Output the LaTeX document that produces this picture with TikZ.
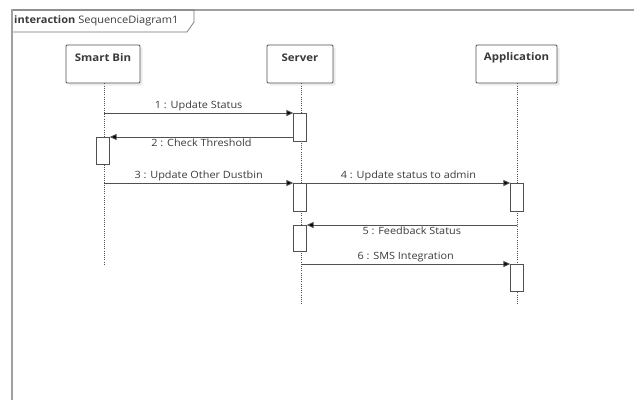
\documentclass[tikz,border=0pt]{standalone}
\usepackage{fontspec}
\setmainfont{Open Sans}
\usetikzlibrary{arrows.meta,calc,shadows}
\definecolor{framegray}{HTML}{A0A0A0}
\definecolor{linegray}{HTML}{505050}
\definecolor{txtgray}{HTML}{3A3A3A}
% slightly widened text, as the modelling tool renders it
\newcommand{\widetxt}[1]{\scalebox{1.09}[1]{#1}}
\begin{document}
\begin{tikzpicture}[x=1pt,y=-1pt,
  lifebox/.style={draw=linegray, fill=white, line width=0.9pt, rounded corners=1pt,
    minimum height=38pt, inner sep=0pt,
    drop shadow={opacity=0.15, shadow xshift=2.5pt, shadow yshift=-2.5pt}},
  boxlabel/.style={font=\bfseries\fontsize{10.5}{12}\selectfont, text=txtgray, inner sep=0pt},
  lifeline/.style={draw=linegray, line width=0.8pt, dash pattern=on 1pt off 1.2pt},
  actbar/.style={draw=linegray, fill=white, line width=0.8pt, minimum width=12.5pt,
    inner sep=0pt, anchor=north},
  msg/.style={draw=linegray, line width=0.9pt, -{Triangle[length=7pt,width=6pt,fill=black]}},
  msglabel/.style={font=\fontsize{10}{12}\selectfont, text=txtgray, inner sep=1.5pt}]
\useasboundingbox (0,0) rectangle (634,400);

% outer interaction frame
\draw[framegray, line width=1.8pt] (12,400) -- (12,10) -- (634,10);
\draw[linegray!80, line width=0.7pt] (13,10) -- (194,10) -- (194,22) -- (187,32) -- (13,32);
\node[anchor=west, inner sep=0pt, font=\fontsize{10.3}{12}\selectfont, text=txtgray] (title) at (14,21)
  {\scalebox{1.07}[1]{\textbf{interaction} SequenceDiagram1}};

% lifeline heads
\node[lifebox, minimum width=74pt] (sb) at (103,64) {};
\node[lifebox, minimum width=66pt] (srv) at (300,64) {};
\node[lifebox, minimum width=81pt] (app) at (516.5,64) {};
\node[boxlabel] (sbt) at ($(sb.north)+(0,13)$) {\widetxt{Smart Bin}};
\node[boxlabel] (srvt) at ($(srv.north)+(0,13)$) {\widetxt{Server}};
\node[boxlabel] (appt) at ($(app.north)+(0,13)$) {\widetxt{Application}};

% lifeline ends
\coordinate (sbEnd) at (104,264);
\coordinate (srvEnd) at (301,304);
\coordinate (appEnd) at (517,304);
\draw[lifeline] (sb.south -| sbEnd) -- (sbEnd);
\draw[lifeline] (srv.south -| srvEnd) -- (srvEnd);
\draw[lifeline] (app.south -| appEnd) -- (appEnd);

% activation bars
\node[actbar, minimum height=28pt] (s1) at (300,113) {};
\node[actbar, minimum height=27pt] (b1) at (103,137) {};
\node[actbar, minimum height=28pt] (s2) at (300,183) {};
\node[actbar, minimum height=28pt] (a1) at (517,183) {};
\node[actbar, minimum height=26pt] (s3) at (300,225) {};
\node[actbar, minimum height=27pt] (a2) at (517,264) {};

% messages
\draw[msg] (sbEnd |- s1.north) -- node[msglabel, above] {\widetxt{1 : Update Status}} (s1.north west);
\draw[msg] (s1.west |- b1.north) -- node[msglabel, below] {\widetxt{2 : Check Threshold}} (b1.north east);
\draw[msg] (sbEnd |- s2.north) -- node[msglabel, above] {\widetxt{3 : Update Other Dustbin}} (s2.north west);
\draw[msg] (s2.north east) -- node[msglabel, above] {\widetxt{4 : Update status to admin}} (a1.north west);
\draw[msg] (appEnd |- s3.north) -- node[msglabel, below] {\widetxt{5 : Feedback Status}} (s3.north east);
\draw[msg] (srvEnd |- a2.north) -- node[msglabel, above] {\widetxt{6 : SMS Integration}} (a2.north west);
\end{tikzpicture}
\end{document}
